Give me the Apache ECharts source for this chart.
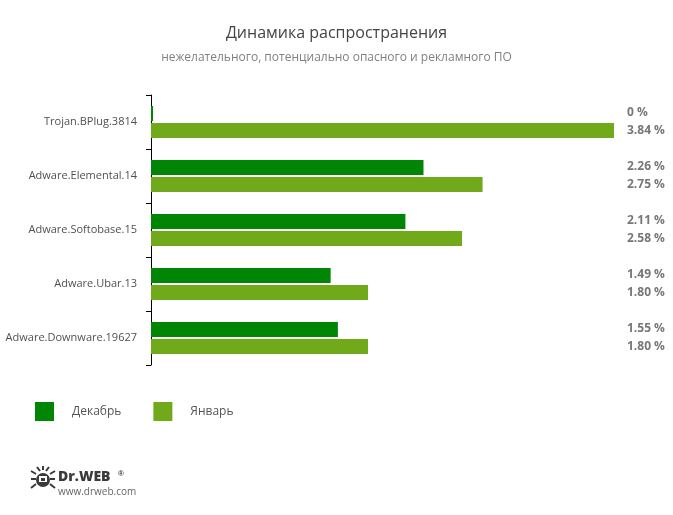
<!DOCTYPE html>
<html><head><meta charset="utf-8">
<script src="https://cdn.jsdelivr.net/npm/echarts@6/dist/echarts.min.js"></script>
<style>html,body{margin:0;padding:0;background:#fff}#c{width:673px;height:515px}</style>
</head><body><div id="c"></div>
<script>
const categories = ['Trojan.BPlug.3814','Adware.Elemental.14','Adware.Softobase.15','Adware.Ubar.13','Adware.Downware.19627'];
const december = [0, 2.26, 2.11, 1.49, 1.55];
const january = [3.84, 2.75, 2.58, 1.80, 1.80];
const seriesNames = ['Декабрь','Январь'];
const titleText = 'Динамика распространения';
const subtitleText = 'нежелательного, потенциально опасного и рекламного ПО';

function fmt(v){ return v === 0 ? '0 %' : v.toFixed(2) + ' %'; }
const rightLabels = categories.map((c,i)=> fmt(december[i]) + '\n' + fmt(january[i]));

const chart = echarts.init(document.getElementById('c'), null, {renderer:'canvas'});
const font = '"Open Sans", sans-serif';
const ink = '#3a3a3a';
const legs = [
  [[36,474],[31,471]],[[36,479],[31,479]],[[36,484],[31,488]],
  [[50,474],[55,471]],[[50,479],[55,479]],[[50,484],[55,488]],
  [[40,471],[37,467]],[[46,471],[49,467]],[[43,470],[43,466]]
];
const legGraphics = legs.map(p=>({type:'line', shape:{x1:p[0][0],y1:p[0][1],x2:p[1][0],y2:p[1][1]}, style:{stroke:ink, lineWidth:2}}));
chart.setOption({
  animation:false,
  title:{
    text:titleText, subtext:subtitleText, left:'center', top:20, itemGap:11,
    textStyle:{fontFamily:font, fontSize:16, fontWeight:'normal', color:'#444'},
    subtextStyle:{fontFamily:font, fontSize:12, color:'#808080'}
  },
  legend:{
    left:30, top:397, itemWidth:19, itemHeight:19, itemGap:32, icon:'rect',
    textStyle:{fontFamily:font, fontSize:12, color:'#555', padding:[0,0,0,13]},
    data:seriesNames
  },
  grid:{left:151, top:95, width:463, height:270},
  xAxis:{type:'value', min:0, max:'dataMax', show:false},
  yAxis:[{
    type:'category', data:categories, inverse:true,
    axisLine:{show:true, lineStyle:{color:'#000', width:1}},
    axisTick:{show:true, length:5, lineStyle:{color:'#000', width:1}},
    axisLabel:{fontFamily:font, fontSize:11, color:'#505050', margin:14}
  },{
    type:'category', data:rightLabels, inverse:true, position:'right',
    axisLine:{show:false}, axisTick:{show:false},
    axisLabel:{fontFamily:font, fontSize:12, fontWeight:'bold', color:'#777', margin:13, lineHeight:18, align:'left'}
  }],
  series:[{
    name:seriesNames[0], type:'bar', data:december, barWidth:15, barGap:'13%', barMinHeight:2,
    itemStyle:{color:'#008505'}
  },{
    name:seriesNames[1], type:'bar', data:january, barWidth:15, barGap:'13%',
    itemStyle:{color:'#70AA1B'}
  }],
  graphic:[
    {type:'text', left:58, top:470, style:{text:'Dr.WEB', font:'900 14px "Open Sans", sans-serif', fill:ink}},
    {type:'text', left:118, top:470, style:{text:'®', font:'bold 8px sans-serif', fill:ink}},
    {type:'text', left:58, top:487, style:{text:'www.drweb.com', font:'10px "Open Sans", sans-serif', fill:'#666'}}
  ].concat(legGraphics).concat([
    {type:'circle', shape:{cx:43, cy:480, r:7}, style:{fill:ink}},
    {type:'rect', shape:{x:39, y:476, width:8, height:6}, style:{fill:'#fff'}},
    {type:'rect', shape:{x:41, y:478, width:4, height:3}, style:{fill:ink}}
  ])
});
</script></body></html>
